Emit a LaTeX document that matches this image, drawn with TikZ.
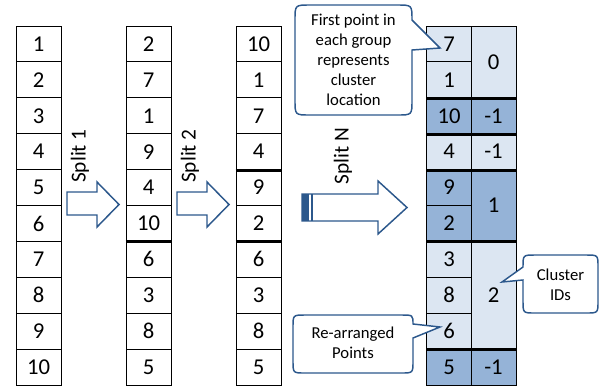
\documentclass[tikz,border=0pt]{standalone}
\usepackage{fontspec}
\setmainfont{Carlito}
\definecolor{cellL}{RGB}{220,230,242}
\definecolor{cellD}{RGB}{149,179,215}
\definecolor{navy}{RGB}{44,88,140}
\begin{document}
\begin{tikzpicture}[x=0.75pt,y=-0.75pt,
  cell/.style={draw=black, line width=0.75pt, minimum width=33.75pt, minimum height=26.93pt,
    inner sep=0pt, font=\fontsize{17}{19}\selectfont},
  sepline/.style={draw=black, line width=2.25pt},
  blockarrow/.style={draw=navy, line width=1.1pt, fill=white, line join=miter},
  splitlabel/.style={rotate=90, font=\fontsize{16}{18}\selectfont, inner sep=0pt},
  bubble/.style={draw=navy, line width=1.1pt, fill=white, line join=miter},
  bubbletext/.style={align=center, font=\fontsize{12.5}{15}\selectfont, inner sep=0pt}]
\useasboundingbox (0,0) rectangle (600,387);
% column 1
\foreach \v [count=\i] in {1,2,3,4,5,6,7,8,9,10}
  \node[cell] (a\i) at (38.5,{26+35.9*(\i-0.5)}) {\v};
% column 2
\foreach \v [count=\i] in {2,7,1,9,4,10,6,3,8,5}
  \node[cell] (b\i) at (148.5,{26+35.9*(\i-0.5)}) {\v};
% column 3
\foreach \v [count=\i] in {10,1,7,4,9,2,6,3,8,5}
  \node[cell] (c\i) at (258.5,{26+35.9*(\i-0.5)}) {\v};
% column 4 (re-arranged points)
\foreach \v/\f [count=\i] in {7/cellL,1/cellL,10/cellD,4/cellL,9/cellD,2/cellD,3/cellL,8/cellL,6/cellL,5/cellD}
  \node[cell, fill=\f] (d\i) at (449,{26+35.9*(\i-0.5)}) {\v};
% column 5 (cluster IDs)
\node[cell, fill=cellL, minimum height=53.85pt] (e1) at (493.5,{26+35.9*1}) {0};
\node[cell, fill=cellD] (e3) at (493.5,{26+35.9*2.5}) {-1};
\node[cell, fill=cellL] (e4) at (493.5,{26+35.9*3.5}) {-1};
\node[cell, fill=cellD, minimum height=53.85pt] (e5) at (493.5,{26+35.9*5}) {1};
\node[cell, fill=cellL, minimum height=80.78pt] (e7) at (493.5,{26+35.9*7.5}) {2};
\node[cell, fill=cellD] (e10) at (493.5,{26+35.9*9.5}) {-1};
% thick group separators
\draw[sepline] (b6.south west) -- (b6.south east);
\draw[sepline] (c4.south west) -- (c4.south east);
\draw[sepline] (c6.south west) -- (c6.south east);
\foreach \i in {2,3,4,6,9}
  \draw[sepline] (d\i.south west) -- (d\i.south west -| e1.east);
% block arrows
\draw[blockarrow] (67,192) -- (97,192) -- (97,182) -- (119,204.5) -- (97,227) -- (97,215) -- (67,215) -- cycle;
\draw[blockarrow] (177,192) -- (207,192) -- (207,182) -- (229,204.5) -- (207,227) -- (207,215) -- (177,215) -- cycle;
\draw[blockarrow] (302,194) -- (378,194) -- (378,181) -- (407,207.5) -- (378,234) -- (378,221) -- (302,221) -- cycle;
\fill[navy] (302,194) rectangle (308.5,221);
\draw[navy, line width=1.5pt] (311.5,194) -- (311.5,221);
% split labels
\node[splitlabel] (s1) at (80,156) {Split 1};
\node[splitlabel] (s2) at (190,156) {Split 2};
\node[splitlabel] (sn) at (343,156) {Split N};
% callout: first point
\draw[bubble] (310,5) -- (397,5) .. controls (412,5) .. (412,20) -- (440,48) -- (412,50)
  -- (412,100) .. controls (412,115) .. (397,115) -- (310,115) .. controls (295,115) .. (295,100)
  -- (295,20) .. controls (295,5) .. (310,5) -- cycle;
\node[bubbletext] (t1) at (353.5,60) {First point in\\each group\\represents\\cluster\\location};
% callout: cluster IDs
\draw[bubble] (535,255) -- (586,255) .. controls (598,255) .. (598,267) -- (598,301)
  .. controls (598,313) .. (586,313) -- (535,313) .. controls (523,313) .. (523,301)
  -- (523,280) -- (502,282) -- (523,267) .. controls (523,255) .. (535,255) -- cycle;
\node[bubbletext] (t2) at (560.5,285) {Cluster\\IDs};
% callout: re-arranged points
\draw[bubble] (305,315) -- (401,315) .. controls (413,315) .. (413,324) -- (440,327) -- (413,338)
  -- (413,361) .. controls (413,373) .. (401,373) -- (305,373) .. controls (293,373) .. (293,361)
  -- (293,327) .. controls (293,315) .. (305,315) -- cycle;
\node[bubbletext] (t3) at (353,343) {Re-arranged\\Points};
\end{tikzpicture}
\end{document}
